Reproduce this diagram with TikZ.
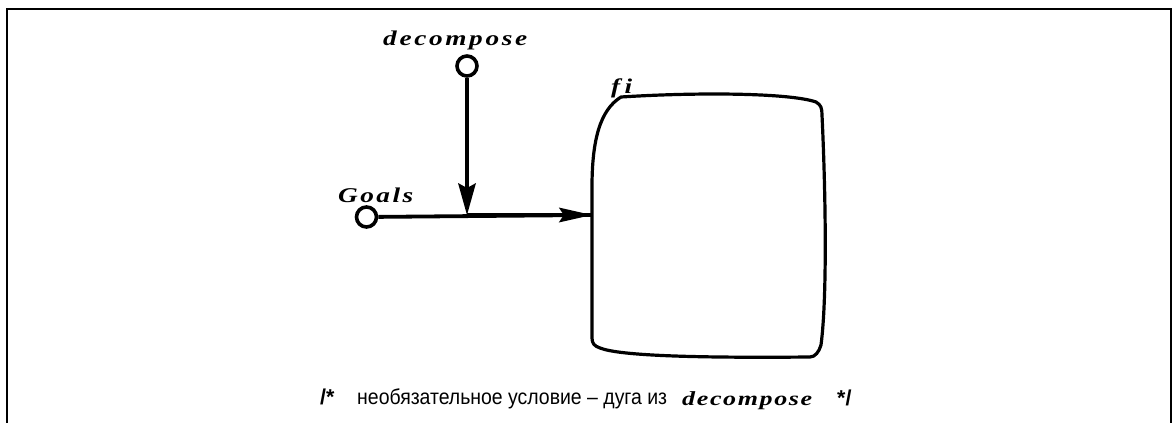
\documentclass[tikz,border=0pt]{standalone}
\usepackage{fontspec}
\usepackage{graphicx}
\usetikzlibrary{arrows.meta,calc}
\newfontfamily\tmsfont[FakeStretch=1.3]{Liberation Serif}
\newfontfamily\arsfont{Liberation Sans}
\newcommand\bisf{\tmsfont\bfseries\itshape\fontsize{21}{21}\selectfont}
\newcommand\bisfs{\tmsfont\bfseries\itshape\fontsize{20}{20}\selectfont}
\newcommand\sansf{\arsfont\fontsize{21.5}{21.5}\selectfont}
\begin{document}
\begin{tikzpicture}[x=1pt,y=-1pt,
  frameline/.style={line width=2pt},
  conn/.style={line width=3.8pt},
  boxline/.style={line width=3.2pt,line join=round},
  port/.style={circle,draw,line width=3.6pt,fill=white,minimum size=20pt,inner sep=0pt},
  lbl/.style={anchor=base west,inner sep=0pt},
  tipv/.style={-{Stealth[length=32pt,width=18pt,inset=5pt,line width=0pt]}},
  tiph/.style={-{Stealth[length=33pt,width=15pt,inset=5pt,line width=0pt]}}]
\useasboundingbox (0,0) rectangle (1173,423);
% frame (open at the bottom)
\draw[frameline] (7,423) -- (7,9) -- (1171,9) -- (1171,423);
% box fi
\node (box) [minimum width=232pt,minimum height=264pt,inner sep=0pt] at (708,225.5) {};
\draw[boxline]
  (592,338) -- (592,187)
  .. controls (592,140) and (600,110) .. (621,97)
  .. controls (700,92) and (790,93) .. (816,102)
  .. controls (821,105) and (822,108) .. (822,115)
  .. controls (826,200) and (827,300) .. (821,345)
  .. controls (819,352) and (815,357) .. (810,357)
  .. controls (700,358) and (620,356) .. (600,348)
  .. controls (594,346) and (592,343) .. (592,338) -- cycle;
\node (filbl) [lbl] at (611,93) {\bisf\makebox[21pt][s]{f\hfill i}};
% ports
\node (dc) [port] at (467,66) {};
\node (gc) [port] at (366.5,217) {};
\coordinate (j) at (467,215);
\node (dclbl) [lbl] at (383,45) {\bisf\makebox[144pt][s]{d\hfill e\hfill c\hfill o\hfill m\hfill p\hfill o\hfill s\hfill e}};
\node (glbl) [lbl] at (338,202) {\bisf\makebox[75pt][s]{G\hfill o\hfill a\hfill l\hfill s}};
% connectors
\draw[conn] (gc) -- (j -| box.west);
\draw[conn,tiph] (j) -- (j -| box.west);
\draw[conn,tipv] (dc) -- (j);
% comment line
\node (c1) [lbl] at (320,404) {\arsfont\bfseries\fontsize{21.5}{21.5}\selectfont /*};
\node (c2) [lbl] at (357,404) {\resizebox{310pt}{\height}{\sansf необязательное условие – дуга из}};
\node (c3) [lbl] at (682,405) {\bisfs\makebox[130pt][s]{d\hfill e\hfill c\hfill o\hfill m\hfill p\hfill o\hfill s\hfill e}};
\node (c4) [lbl] at (837,405) {\arsfont\bfseries\fontsize{21.5}{21.5}\selectfont */};
\end{tikzpicture}
\end{document}
